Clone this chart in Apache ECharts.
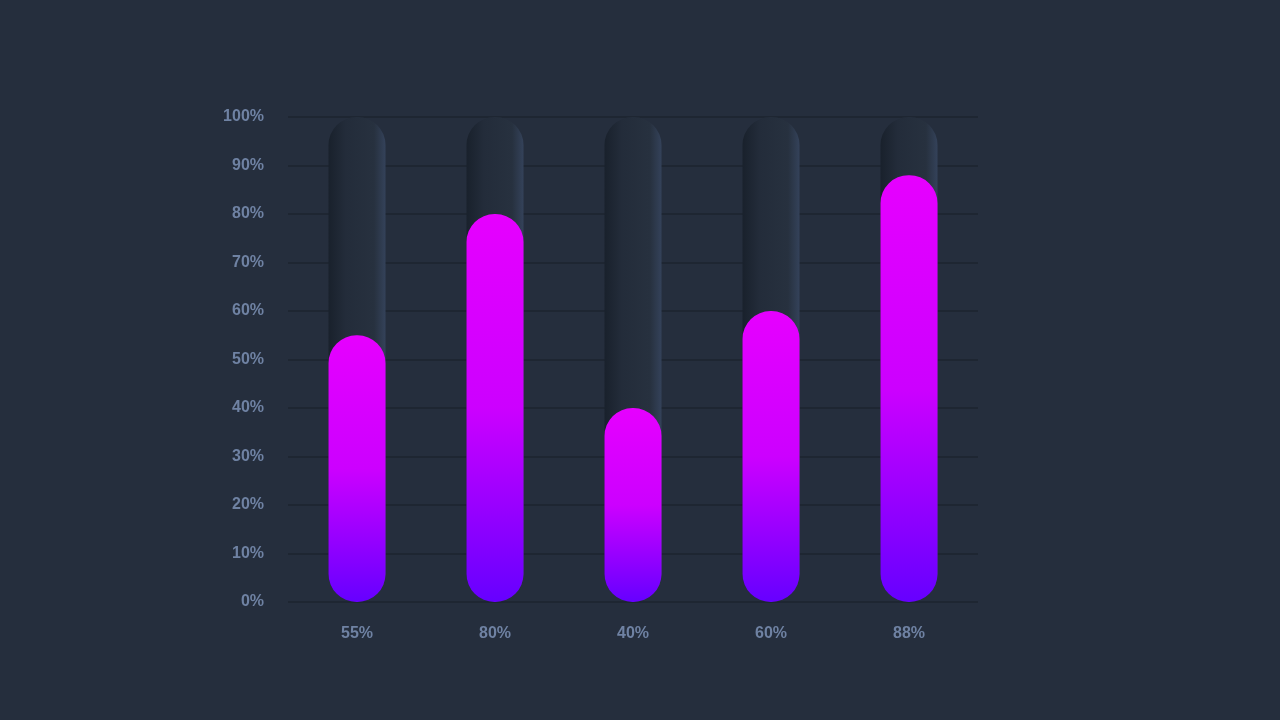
<!DOCTYPE html>
<html>
<head>
<meta charset="utf-8">
<script src="https://cdn.jsdelivr.net/npm/echarts@6/dist/echarts.min.js"></script>
<style>html,body{margin:0;padding:0;background:#252e3d;}#main{width:1280px;height:720px;}</style>
</head>
<body>
<div id="main"></div>
<script>
var categories = ["55%", "80%", "40%", "60%", "88%"];
var values = [55, 80, 40, 60, 88];
var trackValues = [100, 100, 100, 100, 100];

var myChart = echarts.init(document.getElementById("main"));
var option = {
    backgroundColor: "#252e3d",
    grid: { left: 288, right: 302, top: 117, bottom: 118 },
    xAxis: {
        type: "category",
        data: categories,
        axisLine: { show: false },
        axisTick: { show: false },
        axisLabel: { color: "#6f82a3", fontSize: 16, fontWeight: "bold", margin: 24, fontFamily: "Liberation Sans" }
    },
    yAxis: {
        type: "value",
        min: 0,
        max: 100,
        interval: 10,
        axisLine: { show: false },
        axisTick: { show: false },
        axisLabel: { formatter: "{value}%", color: "#6f82a3", fontSize: 16, fontWeight: "bold", margin: 24, fontFamily: "Liberation Sans" },
        splitLine: { lineStyle: { color: "#1e2632", width: 2 } }
    },
    series: [
        {
            type: "bar",
            data: trackValues,
            barWidth: 57,
            barGap: "-100%",
            silent: true,
            itemStyle: {
                borderRadius: 28,
                color: new echarts.graphic.LinearGradient(0, 0, 1, 0, [
                    { offset: 0, color: "#19212c" },
                    { offset: 0.3, color: "#232c3a" },
                    { offset: 0.8, color: "#27313f" },
                    { offset: 1, color: "#34425a" }
                ])
            }
        },
        {
            type: "bar",
            data: values,
            barWidth: 57,
            itemStyle: {
                borderRadius: 28,
                color: new echarts.graphic.LinearGradient(0, 0, 0, 1, [
                    { offset: 0, color: "#e600ff" },
                    { offset: 0.5, color: "#cc00ff" },
                    { offset: 1, color: "#6600ff" }
                ])
            }
        }
    ]
};
myChart.setOption(option);
</script>
</body>
</html>
